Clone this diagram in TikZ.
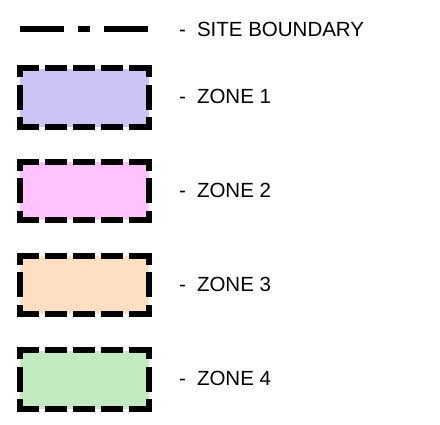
\documentclass[tikz,border=0pt]{standalone}
\usepackage{fontspec}
\setmainfont{Liberation Sans}
\usetikzlibrary{positioning}

\definecolor{zoneone}{RGB}{204,196,245}
\definecolor{zonetwo}{RGB}{255,194,255}
\definecolor{zonethree}{RGB}{255,223,194}
\definecolor{zonefour}{RGB}{194,235,194}

\tikzset{
  zonebox/.style={minimum width=129pt, minimum height=58pt, inner sep=0pt},
  hdash/.style={line width=6pt, dash pattern={on 22pt off 6pt}, dash phase=2.5pt},
  vdash/.style={line width=6pt, dash pattern={on 25pt off 7.5pt}, dash phase=13pt},
  keytext/.style={anchor=west, inner sep=0pt, font=\fontsize{20.5}{24}\selectfont}
}

\begin{document}
\begin{tikzpicture}[x=1pt,y=1pt,yscale=-1,xscale=1]
\useasboundingbox (0,0) rectangle (440,424);

%Site boundary line
\coordinate (sbL) at (20,28.5);
\coordinate (sbR) at (148,28.5);
\draw [line width=6pt, dash pattern={on 44pt off 14pt on 12pt off 14pt}] (sbL) -- (sbR);

%Zone boxes
\node (zone1) [zonebox, fill=zoneone] at (84.5,97.5) {};
\node (zone2) [zonebox, fill=zonetwo] at (84.5,191) {};
\node (zone3) [zonebox, fill=zonethree] at (84.5,285) {};
\node (zone4) [zonebox, fill=zonefour] at (84.5,379.5) {};

%Dashed borders, one side at a time (yshift runs downwards here)
\foreach \z in {zone1,zone2,zone3,zone4}{
  \draw [hdash] (\z.north west) -- (\z.north east);
  \draw [hdash] (\z.south west) -- (\z.south east);
  \draw [vdash] ([yshift=-3pt]\z.north west) -- ([yshift=3pt]\z.south west);
  \draw [vdash] ([yshift=-3pt]\z.north east) -- ([yshift=3pt]\z.south east);
}

% Text Node
\node (sbtext) [keytext] at (179,29) {-\hspace{11pt}SITE BOUNDARY};
% Text Node
\node (z1text) [keytext] at (179,96) {-\hspace{11pt}ZONE 1};
% Text Node
\node (z2text) [keytext] at (179,190) {-\hspace{11pt}ZONE 2};
% Text Node
\node (z3text) [keytext] at (179,284) {-\hspace{11pt}ZONE 3};
% Text Node
\node (z4text) [keytext] at (179,378) {-\hspace{11pt}ZONE 4};
\end{tikzpicture}
\end{document}
